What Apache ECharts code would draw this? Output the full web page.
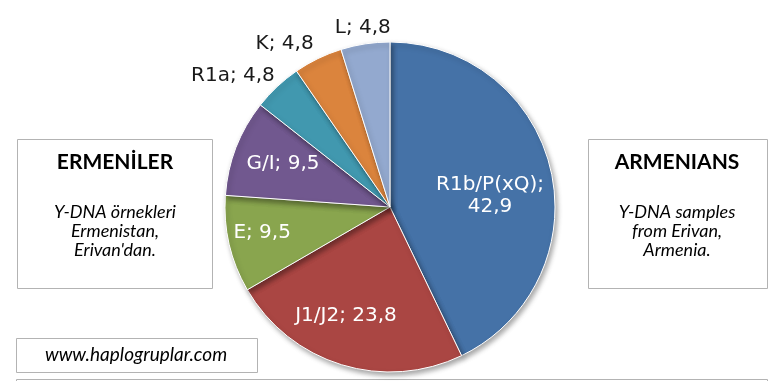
<!DOCTYPE html>
<html>
<head>
<meta charset="utf-8">
<script src="https://cdn.jsdelivr.net/npm/echarts@6/dist/echarts.min.js"></script>
<style>
html,body{margin:0;padding:0;background:#fff;}
#chart{width:780px;height:381px;}
</style>
</head>
<body>
<div id="chart"></div>
<script>
const categories = ['R1b/P(xQ)', 'J1/J2', 'E', 'G/I', 'R1a', 'K', 'L'];
const values = [42.9, 23.8, 9.5, 9.5, 4.8, 4.8, 4.8];
const sliceColors = ['#4572A7', '#AA4643', '#89A54E', '#71588F', '#4198AF', '#DB843D', '#93A9CF'];
const leftTitle = 'ERMENİLER';
const leftText = ['Y-DNA örnekleri', 'Ermenistan,', "Erivan'dan."];
const rightTitle = 'ARMENIANS';
const rightText = ['Y-DNA samples', 'from Erivan,', 'Armenia.'];
const siteText = 'www.haplogruplar.com';

// label placement (style): radius factor and angular tweak in degrees
const labelRadius = [0.61, 0.71, 0.79, 0.70, 1.24, 1.176, 1.10];
const labelTweak = [6.5, 5, 1.8, 1, -7, -7, 0];
const outsideIdx = [4, 5, 6];

const CX = 390, CY = 207, R = 165;

const chart = echarts.init(document.getElementById('chart'), null, {renderer: 'canvas'});

function boxGraphic(x, y, w, h) {
  return {type: 'rect', shape: {x: x + 0.5, y: y + 0.5, width: w, height: h},
    style: {fill: '#fff', stroke: '#b3b3b3', lineWidth: 1}, z: 1};
}
function textG(x, y, t, weight, style, size) {
  return {type: 'text', x: x, y: y, z: 2,
    style: {text: t, fill: '#000', font: style + ' ' + weight + ' ' + size + 'px Lato', textAlign: 'center', textVerticalAlign: 'middle'}};
}

const graphics = [
  boxGraphic(17, 139, 195, 149),
  boxGraphic(588, 139, 179, 149),
  boxGraphic(16, 338, 241, 34),
  boxGraphic(16, 379, 751, 30),
  textG(115, 162, leftTitle, 'bold', 'normal', 21),
  textG(677, 162, rightTitle, 'bold', 'normal', 21)
];
leftText.forEach((t, i) => graphics.push(textG(115, 212 + i * 19, t, 'normal', 'italic', 18)));
rightText.forEach((t, i) => graphics.push(textG(677, 212 + i * 19, t, 'normal', 'italic', 18)));
graphics.push(textG(136, 355, siteText, 'normal', 'italic', 19));

const data = categories.map((c, i) => ({
  name: c, value: values[i],
  itemStyle: {color: sliceColors[i]},
  label: {color: outsideIdx.includes(i) ? '#1a1a1a' : '#ffffff'}
}));

chart.setOption({
  animation: false,
  backgroundColor: '#fff',
  graphic: graphics,
  series: [{
    type: 'pie',
    center: [CX, CY],
    radius: [0, R],
    startAngle: 90,
    clockwise: true,
    avoidLabelOverlap: false,
    z: 3,
    itemStyle: {borderColor: '#ffffff', borderWidth: 1,
      shadowBlur: 5, shadowOffsetX: 2, shadowOffsetY: 3, shadowColor: 'rgba(0,0,0,0.35)'},
    label: {
      show: true,
      position: 'inside',
      fontFamily: 'DejaVu Sans',
      fontSize: 20,
      lineHeight: 22,
      formatter: p => p.name + ';' + (p.dataIndex === 0 ? '\n' : ' ') + String(p.value).replace('.', ',')
    },
    labelLine: {show: false},
    emphasis: {disabled: true},
    labelLayout: function (p) {
      const lr = p.labelRect;
      const lx = lr.x + lr.width / 2, ly = lr.y + lr.height / 2;
      const theta = Math.atan2(lx - CX, -(ly - CY)) + labelTweak[p.dataIndex] * Math.PI / 180;
      const d = labelRadius[p.dataIndex] * R;
      const tx = CX + d * Math.sin(theta), ty = CY - d * Math.cos(theta);
      return {dx: tx - lx, dy: ty - ly};
    },
    data: data
  }]
});
</script>
</body>
</html>
